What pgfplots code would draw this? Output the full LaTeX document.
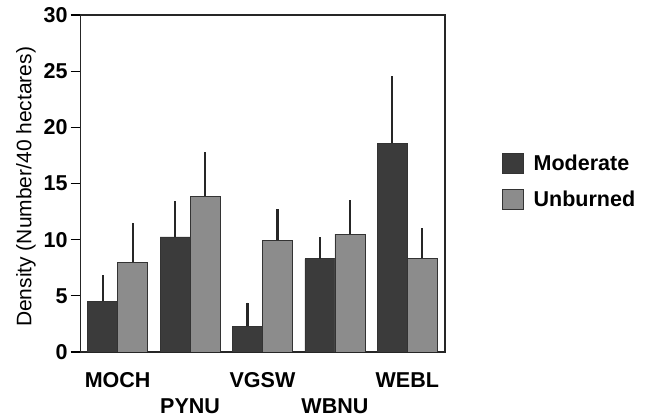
\documentclass[border=0pt]{standalone}
\usepackage{pgfplots}
\pgfplotsset{compat=1.18}
\usepackage{fontspec}
\setmainfont{Liberation Sans}
\definecolor{moder}{gray}{0.23}
\definecolor{unb}{gray}{0.55}
\begin{document}
\begin{tikzpicture}
\useasboundingbox (0,0) rectangle (645pt,420pt);
\begin{axis}[
  at={(80.7pt,68pt)}, anchor=south west,
  width=364.3pt, height=337pt, scale only axis,
  xmin=-0.51, xmax=4.52, ymin=0, ymax=30,
  axis line style={line width=1.1pt, black!85},
  ytick={0,5,10,15,20,25,30}, ytick pos=left,
  xtick={0,2,4}, xticklabels={MOCH,VGSW,WEBL},
  extra x ticks={1,3}, extra x tick labels={PYNU,WBNU},
  extra x tick style={xticklabel style={yshift=-26pt}},
  x tick style={draw=none},
  y tick style={black, line width=1.1pt},
  tick align=outside, major tick length=10pt,
  /pgf/number format/assume math mode=true,
  xticklabel style={font=\fontsize{21.5}{21}\selectfont\bfseries, anchor=base, yshift=-25pt},
  yticklabel style={font=\fontsize{21.5}{21}\selectfont\bfseries, inner sep=3pt},
  ylabel={Density (Number/40 hectares)},
  ylabel style={font=\fontsize{21}{21}\selectfont, at={(rel axis cs:-0.15,0.49)}, anchor=center},
  legend style={at={(1.156,0.59)}, anchor=north west, draw=none, fill=none,
    inner sep=0pt, row sep=15pt,
    font=\fontsize{21.5}{21}\selectfont\bfseries,
    nodes={inner xsep=10pt, inner ysep=0pt}},
  legend cell align=left,
  legend image code/.code={\fill[#1] (0pt,-10pt) rectangle (21pt,10pt);},
]
\addplot[ybar, bar width=0.414, bar shift=0, fill=moder, draw=black!80, line width=0.6pt,
  error bars/.cd, y dir=plus, y explicit, error mark=none,
  error bar style={line width=2.2pt, black!85}]
coordinates {
  (-0.207,4.5)   +- (0,2.35)
  (0.793,10.25) +- (0,3.15)
  (1.793,2.3)   +- (0,2.1)
  (2.793,8.3)   +- (0,1.9)
  (3.793,18.6)  +- (0,5.95)
};
\addplot[ybar, bar width=0.414, bar shift=0, fill=unb, draw=black!80, line width=0.6pt,
  error bars/.cd, y dir=plus, y explicit, error mark=none,
  error bar style={line width=2.2pt, black!85}]
coordinates {
  (0.207,8.0)   +- (0,3.5)
  (1.207,13.85) +- (0,3.95)
  (2.207,9.95)  +- (0,2.75)
  (3.207,10.5)  +- (0,3.0)
  (4.207,8.35)  +- (0,2.65)
};
\legend{Moderate,Unburned}
\end{axis}
\end{tikzpicture}
\end{document}
